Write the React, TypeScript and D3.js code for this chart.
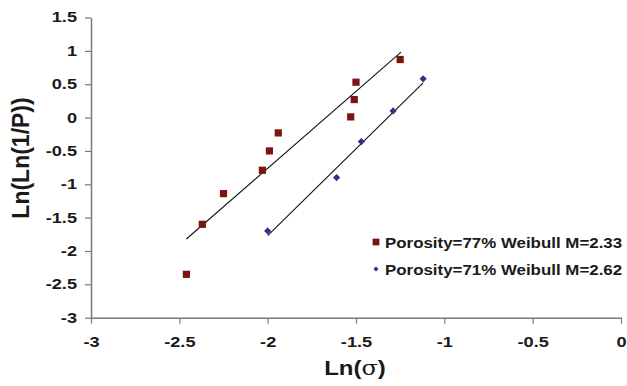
import { useEffect, useRef } from 'react'
import * as d3 from 'd3'

// porosity 77% (red squares)
const P77_X = [-2.46, -2.37, -2.25, -2.03, -1.99, -1.94, -1.53, -1.51, -1.5, -1.25]
const P77_Y = [-2.35, -1.6, -1.14, -0.79, -0.5, -0.23, 0.01, 0.27, 0.53, 0.87]
const P77_FIT_X = [-2.46, -1.245]
const P77_FIT_Y = [-1.82, 0.98]

// porosity 71% (blue diamonds)
const P71_X = [-2.0, -1.61, -1.47, -1.29, -1.12]
const P71_Y = [-1.7, -0.9, -0.36, 0.1, 0.58]
const P71_FIT_X = [-2.0, -1.12]
const P71_FIT_Y = [-1.77, 0.52]

const X_TICKS = [-3, -2.5, -2, -1.5, -1, -0.5, 0]
const Y_TICKS = [1.5, 1, 0.5, 0, -0.5, -1, -1.5, -2, -2.5, -3]
const LEGEND = ['Porosity=77% Weibull M=2.33', 'Porosity=71% Weibull M=2.62']

const W = 627
const H = 386
const M = { t: 17.5, r: 6, b: 68.3, l: 91 }
const RED = '#7c1410'
const BLUE = '#332f8c'
const FONT = "'Liberation Sans', Arial, Helvetica, sans-serif"
// the original text is a bit wider than the font
const STRETCH = 1.3

export default function App() {
  const ref = useRef<SVGSVGElement>(null)

  useEffect(() => {
    const svg = d3.select(ref.current)
    svg.selectAll('*').remove()

    const x = d3.scaleLinear().domain([-3, 0]).range([M.l, W - M.r])
    const y = d3.scaleLinear().domain([-3, 1.5]).range([H - M.b, M.t])
    const axisColor = '#7a7a7a'

    // axes
    const gx = svg.append('g').attr('transform', `translate(0,${y(-3)})`)
      .call(d3.axisBottom(x).tickValues(X_TICKS).tickSize(6).tickSizeOuter(0).tickFormat((d) => String(d)))
    const gy = svg.append('g').attr('transform', `translate(${x(-3)},0)`)
      .call(d3.axisLeft(y).tickValues(Y_TICKS).tickSize(6).tickSizeOuter(0).tickFormat((d) => String(d)))
    ;[gx, gy].forEach((a) => {
      a.attr('font-family', null).attr('font-size', null)
      a.select('.domain').attr('stroke', axisColor).attr('stroke-width', 1.5)
      a.selectAll('.tick line').attr('stroke', axisColor).attr('stroke-width', 1.2)
      a.selectAll('.tick text').attr('fill', '#1a1a1a')
        .style('font-size', '14px').style('font-weight', '700').style('font-family', FONT)
    })
    gx.selectAll('.tick text').attr('y', 0).attr('dy', '29px').attr('transform', `scale(${STRETCH},1)`)
    gy.selectAll('.tick text').attr('x', 0).attr('transform', `translate(-14,0) scale(${STRETCH},1)`)

    // trend lines
    svg.append('line').attr('x1', x(P77_FIT_X[0])).attr('y1', y(P77_FIT_Y[0])).attr('x2', x(P77_FIT_X[1])).attr('y2', y(P77_FIT_Y[1]))
      .attr('stroke', '#111').attr('stroke-width', 1.1)
    svg.append('line').attr('x1', x(P71_FIT_X[0])).attr('y1', y(P71_FIT_Y[0])).attr('x2', x(P71_FIT_X[1])).attr('y2', y(P71_FIT_Y[1]))
      .attr('stroke', '#111').attr('stroke-width', 1.1)

    const sq = d3.symbol().type(d3.symbolSquare).size(52)
    const dia = d3.symbol().type(d3.symbolSquare).size(26)

    P77_X.forEach((vx, i) => {
      svg.append('path').attr('d', sq()).attr('transform', `translate(${x(vx)},${y(P77_Y[i])})`).attr('fill', RED)
    })
    P71_X.forEach((vx, i) => {
      svg.append('path').attr('d', dia()).attr('transform', `translate(${x(vx)},${y(P71_Y[i])}) rotate(45)`).attr('fill', BLUE)
    })

    // legend
    const lg = svg.append('g')
    LEGEND.forEach((t, i) => {
      const cy = 242 + i * 27
      if (i === 0) lg.append('path').attr('d', d3.symbol().type(d3.symbolSquare).size(46)()).attr('transform', `translate(376,${cy})`).attr('fill', RED)
      else lg.append('path').attr('d', d3.symbol().type(d3.symbolSquare).size(13)()).attr('transform', `translate(376,${cy}) rotate(45)`).attr('fill', BLUE)
      lg.append('text').attr('transform', `translate(385,${cy + 6}) scale(1.09,1)`).text(t).attr('fill', '#1a1a1a')
        .style('font-family', FONT).style('font-weight', '700').style('font-size', '15.5px')
    })

    // axis titles
    const xt = svg.append('text').attr('transform', 'translate(355,375) scale(1.2,1)').attr('text-anchor', 'middle').attr('fill', '#1a1a1a')
      .style('font-family', FONT).style('font-weight', '700').style('font-size', '20px')
    xt.append('tspan').text('Ln(')
    xt.append('tspan').text('σ').style('font-family', "'DejaVu Serif', 'Liberation Serif', serif").style('font-weight', '400')
    xt.append('tspan').text(')')

    svg.append('text').attr('transform', 'translate(29,158) rotate(-90)').attr('text-anchor', 'middle').attr('fill', '#1a1a1a')
      .style('font-family', FONT).style('font-weight', '700').style('font-size', '23px')
      .text('Ln(Ln(1/P))')
  }, [])

  return (
    <div style={{ position: 'absolute', left: 0, top: 0, background: '#fff' }}>
      <svg ref={ref} width={W} height={H} style={{ display: 'block' }} />
    </div>
  )
}
